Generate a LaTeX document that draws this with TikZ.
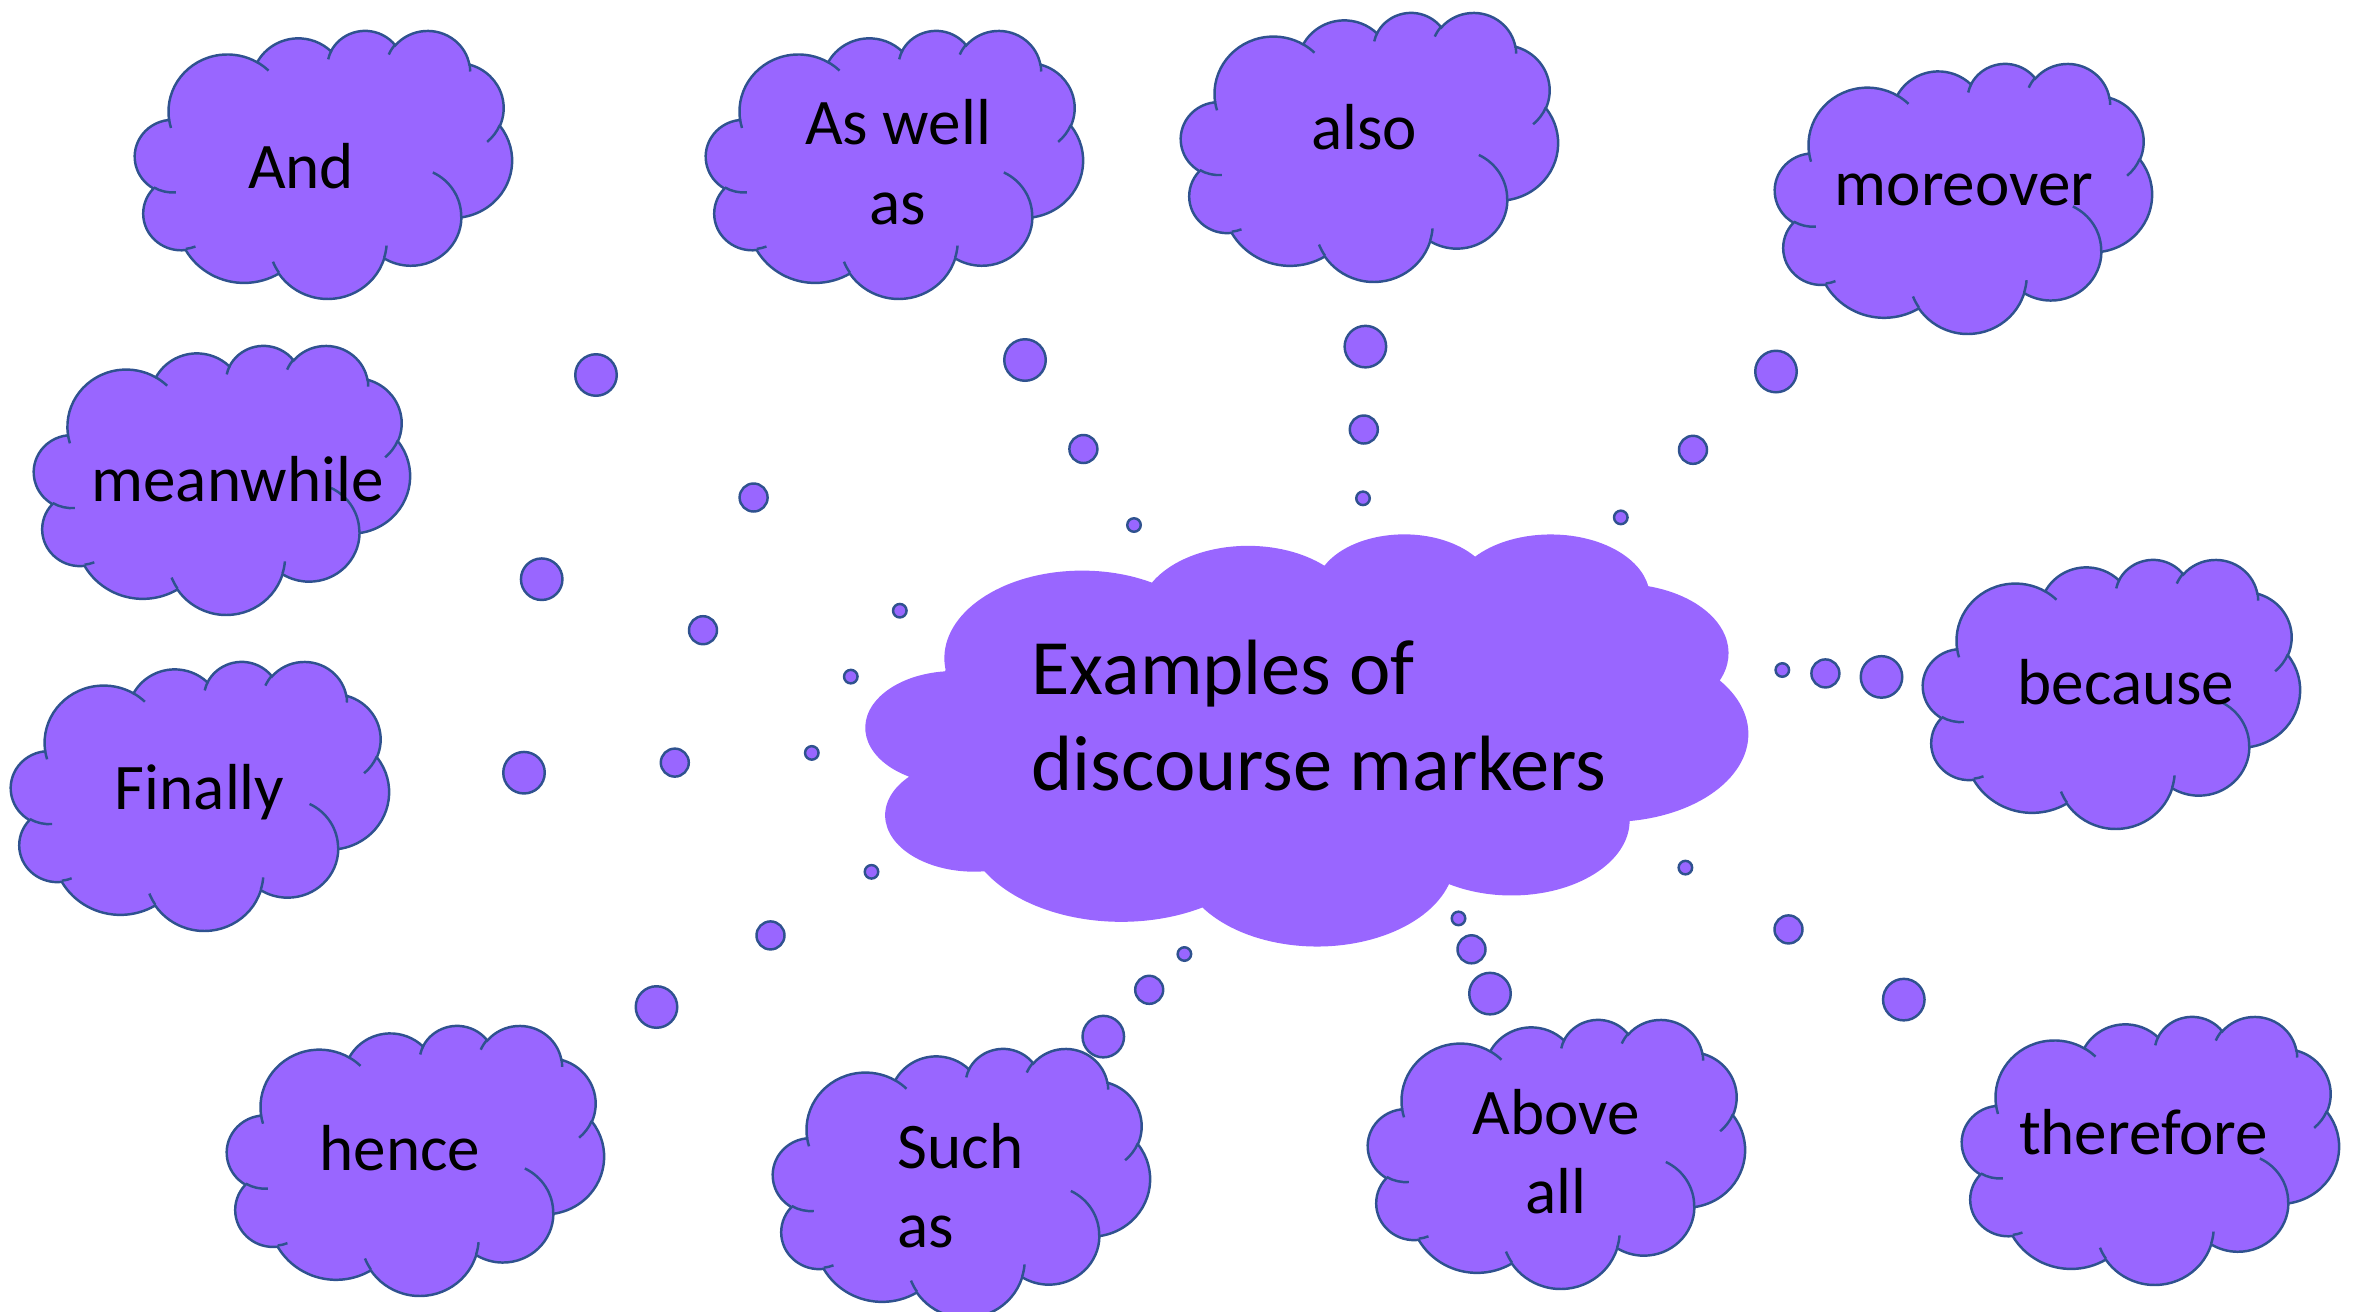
\documentclass[tikz,border=0pt]{standalone}
\usepackage{fontspec}
\setmainfont{Carlito}
\definecolor{lilac}{HTML}{9966FF}
\definecolor{rim}{HTML}{2F528F}
% one arc of the office cloud, angles given as seen on the ellipse
\newcommand{\oarc}[4]{\pgfextra{\pgfmathparse{atan2(#1*sin(#3),#2*cos(#3))}\global\let\arcfrom\pgfmathresult
  \pgfmathparse{atan2(#1*sin(#3+#4),#2*cos(#3+#4))}\global\let\arcto\pgfmathresult
  \pgfmathparse{mod(\arcto-\arcfrom+720,360)}\global\let\arcsweep\pgfmathresult}
  arc[x radius=#1, y radius=#2, start angle=\arcfrom, delta angle=\arcsweep]}
\newcommand{\puffline}{(39.00,143.70)
  \oarc{67.53}{91.90}{-190.4875}{123.7805} \oarc{53.33}{72.67}{-144.1024}{89.9452}
  \oarc{43.65}{59.45}{-145.8079}{99.7230} \oarc{48.57}{65.95}{-130.9861}{117.2417}
  \oarc{53.33}{72.73}{-78.7089}{109.0269} \oarc{67.75}{92.20}{-46.2673}{130.2690}
  \oarc{57.85}{78.67}{0.6250}{114.0333} \oarc{67.52}{92.15}{22.4516}{115.1726}
  \oarc{77.20}{105.43}{66.2426}{75.7110} \oarc{43.60}{59.18}{-274.9421}{146.7356}
  \oarc{43.45}{59.45}{-246.8285}{152.5189} -- cycle}
\newcommand{\creaseline}{(46.93,261.77) \oarc{43.45}{59.45}{86.7420}{26.4295}
  (69.28,348.99) \oarc{43.60}{59.18}{73.6105}{11.4475}
  (164.78,390.90) \oarc{67.52}{92.15}{137.6242}{14.0811}
  (288.27,347.51) \oarc{67.52}{92.15}{6.4533}{15.9984}
  (341.29,229.54) \oarc{57.85}{78.67}{-70.2924}{70.9174}
  (417.98,153.54) \oarc{53.33}{72.73}{30.3180}{27.7515}
  (383.24,54.26) \oarc{48.57}{65.95}{-13.7443}{14.8589}
  (290.78,39.52) \oarc{48.57}{65.95}{-149.1815}{18.1954}
  (221.41,47.20) \oarc{43.65}{59.45}{-163.4943}{17.6864}
  (140.00,51.92) \oarc{67.53}{91.90}{-66.7070}{12.3194}
  (41.27,157.89) \oarc{67.53}{91.90}{157.6544}{11.8582}}
\newcommand{\bubble}[4]{\begin{scope}[shift={(#1,#2)},xscale=#3/432,yscale=#4/432]
  \filldraw[fill=lilac,draw=rim,line width=0.7pt] \puffline;
  \draw[rim,line width=0.7pt] \creaseline;
  \end{scope}}
\newcommand{\mainbubble}[4]{\begin{scope}[shift={(#1,#2)},xscale=#3/432,yscale=#4/432]
  \fill[lilac] \puffline;
  \end{scope}}
\newcommand{\marker}[4]{\node[word] (#1) at (#2,#3) {#4};}
\newcommand{\trail}[7]{\node[bigdot] (#1A) at (#2,#3) {}; \node[middot] (#1B) at (#4,#5) {};
  \node[tinydot] (#1C) at (#6,#7) {};}

\begin{document}
\begin{tikzpicture}[x=0.01cm,y=-0.01cm,
    word/.style={font=\fontsize{18.5}{22.6}\selectfont,align=center,inner sep=0pt,anchor=base},
    title/.style={font=\fontsize{22.3}{27.2}\selectfont,align=left,inner sep=0pt,anchor=base west},
    dot/.style={circle,fill=lilac,draw=rim,line width=0.7pt,inner sep=0pt},
    bigdot/.style={dot,minimum size=4.15mm},
    middot/.style={dot,minimum size=2.8mm},
    tinydot/.style={dot,minimum size=1.35mm}]
    \useasboundingbox (0,0) rectangle (2356,1311);
    \mainbubble{866}{533}{882}{412}
    % multi-line texts sit on their last baseline
    \node[title] (topic) at (1031,790) {Examples of\\discourse markers};
    \bubble{135}{30}{377}{268}     \marker{and}{301}{188.6}{And}
    \bubble{706}{30}{377}{268}     \marker{aswell}{898}{224}{As well\\as}
    \bubble{1181}{12}{377}{269}    \marker{also}{1364}{149}{also}
    \bubble{1775}{63}{377}{270}    \marker{moreover}{1964}{205}{moreover}
    \bubble{34}{345}{376}{269}     \marker{meanwhile}{237.6}{501.7}{meanwhile}
    \bubble{11}{661}{378}{269}     \marker{finally}{199.7}{809.4}{Finally}
    \bubble{1923}{559}{377}{269}   \marker{because}{2126}{704.3}{because}
    \bubble{227}{1025}{377}{270}   \marker{hence}{399.8}{1170.7}{hence}
    \bubble{773}{1048}{377}{269}
    \node[word,align=left,anchor=base west] (suchas) at (897,1247.8) {Such\\as};
    \bubble{1368}{1019}{377}{269}  \marker{aboveall}{1556}{1213.8}{Above\\all}
    \bubble{1962}{1016}{377}{268}  \marker{therefore}{2143.5}{1154}{therefore}
    \trail{and}{596}{375}{753.6}{497.5}{899.8}{610.7}
    \trail{aswell}{1025}{360}{1083.4}{449}{1134}{525}
    \trail{also}{1365.4}{346.6}{1363.8}{429.5}{1363}{498.3}
    \trail{moreover}{1776}{371.5}{1693}{449.8}{1620.8}{517.4}
    \trail{meanwhile}{541.7}{579.2}{703}{630.2}{850.8}{676.6}
    \trail{finally}{524}{772.7}{674.8}{762.6}{811.8}{752.9}
    \trail{because}{1881.5}{676.9}{1825.4}{673.4}{1782.3}{670}
    \trail{hence}{656.5}{1007}{770.5}{935.4}{871.5}{871.8}
    \trail{suchas}{1103.3}{1036.6}{1149.2}{989.8}{1184.4}{954}
    \trail{aboveall}{1490}{993.6}{1471.5}{949.3}{1458.5}{918.4}
    \trail{therefore}{1903.8}{999.6}{1788.5}{929.4}{1685.4}{867.6}
\end{tikzpicture}
\end{document}
